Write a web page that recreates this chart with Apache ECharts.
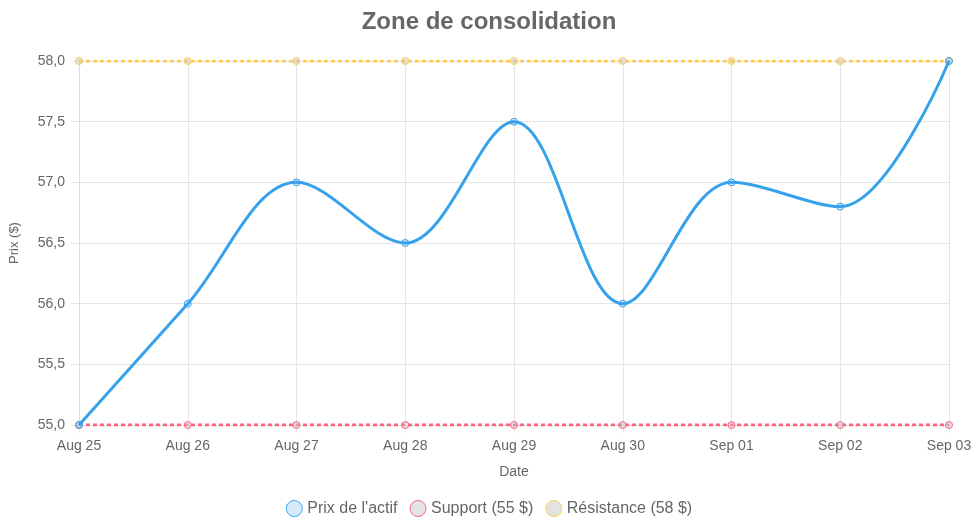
<!DOCTYPE html>
<html><head><meta charset="utf-8">
<script src="https://cdn.jsdelivr.net/npm/echarts@6/dist/echarts.min.js"></script>
<style>html,body{margin:0;padding:0;background:#fff}#c{width:978px;height:532px}</style>
</head><body><div id="c"></div>
<script>
const categories = ['Aug 25','Aug 26','Aug 27','Aug 28','Aug 29','Aug 30','Sep 01','Sep 02','Sep 03'];
const prix = [55, 56, 57, 56.5, 57.5, 56, 57, 56.8, 58];
const support = [55,55,55,55,55,55,55,55,55];
const resistance = [58,58,58,58,58,58,58,58,58];
const font = 'Helvetica, Arial, "Liberation Sans", sans-serif';
function ser(name, data, color, fill, dashed, smooth, z){
  return {name, type:'line', data, smooth, z, symbol:'circle', symbolSize:7,
    lineStyle:{color, width:3, type: dashed?[4,3]:'solid'},
    itemStyle:{color:fill, borderColor:color, borderWidth:1},
    emphasis:{disabled:true}};
}
const chart = echarts.init(document.getElementById('c'));
chart.setOption({
  animation:false,
  textStyle:{fontFamily:font},
  title:{text:'Zone de consolidation', left:'center', top:5,
    textStyle:{fontSize:24, fontWeight:'bold', color:'#666', fontFamily:font}},
  legend:{bottom:10, itemWidth:16, itemHeight:16, itemGap:12, icon:'circle',
    textStyle:{fontSize:16, color:'#666'},
    data:[
      {name:"Prix de l'actif", itemStyle:{color:'rgba(54,162,235,0.2)', borderColor:'#36a2eb', borderWidth:1}},
      {name:'Support (55 $)', itemStyle:{color:'rgba(200,200,200,0.5)', borderColor:'#ff6384', borderWidth:1}},
      {name:'Résistance (58 $)', itemStyle:{color:'rgba(200,200,200,0.5)', borderColor:'#ffcd56', borderWidth:1}}
    ]},
  grid:{left:75, right:29, top:61, bottom:107},
  xAxis:{type:'category', data:categories, boundaryGap:false,
    name:'Date', nameLocation:'middle', nameGap:40, nameTextStyle:{color:'#666', fontSize:14},
    axisLine:{lineStyle:{color:'#ddd'}}, axisTick:{show:true, length:8, lineStyle:{color:'#e5e5e5'}},
    axisLabel:{color:'#666', fontSize:14, margin:14},
    splitLine:{show:true, lineStyle:{color:'#e5e5e5'}}},
  yAxis:{type:'value', min:55, max:58, interval:0.5,
    name:'Prix ($)', nameLocation:'middle', nameGap:58, nameTextStyle:{color:'#666', fontSize:13},
    axisLine:{show:true, lineStyle:{color:'#ddd'}}, axisTick:{show:true, length:8, lineStyle:{color:'#e5e5e5'}},
    axisLabel:{color:'#666', fontSize:14, margin:14, formatter:v=>v.toFixed(1).replace('.',',')},
    splitLine:{lineStyle:{color:'#e5e5e5'}}},
  series:[
    ser("Prix de l'actif", prix, '#36a2eb', 'rgba(54,162,235,0.2)', false, 0.35, 3),
    ser('Support (55 $)', support, '#ff6384', 'rgba(200,200,200,0.5)', true, false, 2),
    ser('Résistance (58 $)', resistance, '#ffcd56', 'rgba(200,200,200,0.5)', true, false, 2)
  ]
});
</script></body></html>
